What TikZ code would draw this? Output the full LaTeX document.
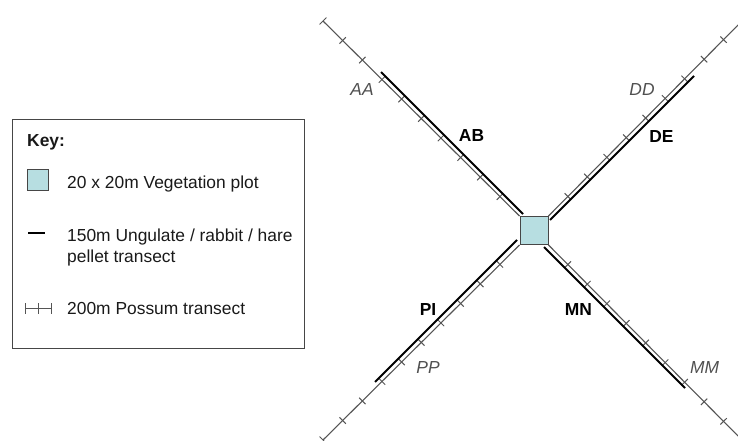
\documentclass[tikz,border=0pt]{standalone}
\usepackage{fontspec}
\setmainfont{Liberation Sans}
\usetikzlibrary{decorations.markings,backgrounds}
\definecolor{plotfill}{RGB}{183,222,225}
\definecolor{linegray}{RGB}{85,85,85}
\definecolor{labgray}{RGB}{80,80,80}
\definecolor{boxgray}{RGB}{70,70,70}
\definecolor{txt}{RGB}{25,25,25}
\begin{document}
\begin{tikzpicture}[x=1pt,y=-1pt,
  font=\fontsize{17.4}{21}\selectfont,
  every node/.style={inner sep=0pt, text=txt},
  possum/.style={draw=linegray, line width=1.1pt, postaction=decorate,
    decoration={markings,
      mark=between positions 0.1 and 0.95 step 0.1 with {\draw[linegray, line width=1pt] (0,-4.5pt) -- (0,4.5pt);},
      mark=at position 1 with {\draw[linegray, line width=1pt] (0,-4.8pt) -- (0,4.8pt);}}},
  pellet/.style={draw=black, line width=2.1pt},
  plotbox/.style={draw=boxgray, fill=plotfill, line width=0.8pt, inner sep=0pt},
  armlab/.style={font=\fontsize{17.4}{21}\selectfont\bfseries, text=black},
  endlab/.style={font=\fontsize{17.4}{21}\selectfont\itshape, text=labgray},
  keytext/.style={anchor=base west, align=left}
]
\useasboundingbox (0,0) rectangle (738,441);

% central vegetation plot
\node[plotbox, minimum size=28pt] (sq) at (534,230.5) {};

% arm ends
\coordinate (endNW) at (323,21);
\coordinate (endNE) at (743,20);
\coordinate (endSW) at (323,440);
\coordinate (endSE) at (743,441);
% pellet transect ends
\coordinate (abIn) at (523,214);  \coordinate (abOut) at (381,72);
\coordinate (deIn) at (550,220);  \coordinate (deOut) at (694,76);
\coordinate (piIn) at (517,240);  \coordinate (piOut) at (375,382);
\coordinate (mnIn) at (544,247);  \coordinate (mnOut) at (685,388);

\begin{scope}[on background layer]
  \draw[possum] (sq.north west) -- (endNW);
  \draw[possum] (sq.north east) -- (endNE);
  \draw[possum] (sq.south west) -- (endSW);
  \draw[possum] (sq.south east) -- (endSE);
  \draw[pellet] (abIn) -- (abOut);
  \draw[pellet] (deIn) -- (deOut);
  \draw[pellet] (piIn) -- (piOut);
  \draw[pellet] (mnIn) -- (mnOut);
\end{scope}

% labels
\node[endlab] (AA) at (362,90) {AA};
\node[armlab] (AB) at (471.5,136) {AB};
\node[endlab] (DD) at (642,90) {DD};
\node[armlab] (DE) at (661.5,136.5) {DE};
\node[armlab] (PI) at (428,309.5) {PI};
\node[endlab] (PP) at (428,368) {PP};
\node[armlab] (MN) at (578.5,310) {MN};
\node[endlab] (MM) at (704.5,368) {MM};

% key
\node[draw=boxgray, line width=1.2pt, minimum width=292pt, minimum height=229pt, anchor=north west] (key) at (12,119) {};
\node[keytext, font=\fontsize{17.4}{21}\selectfont\bfseries] (keytitle) at (27,146) {Key:};
\node[plotbox, minimum size=21pt, anchor=north west] (keysq) at (27,169) {};
\node[keytext] (t1) at (67,188) {20 x 20m Vegetation plot};
\coordinate (k1a) at (28,233); \coordinate (k1b) at (45,233);
\draw[pellet, line width=1.8pt] (k1a) -- (k1b);
\node[keytext] (t2) at (67,262) {150m Ungulate / rabbit / hare\\pellet transect};
\coordinate (k2a) at (25,308); \coordinate (k2m) at (38,308); \coordinate (k2b) at (51,308);
\draw[linegray, line width=1pt] (k2a) -- (k2b);
\draw[linegray, line width=1pt] ([yshift=-5.5pt]k2a) -- ([yshift=5.5pt]k2a)
  ([yshift=-5.5pt]k2m) -- ([yshift=5.5pt]k2m)
  ([yshift=-5.5pt]k2b) -- ([yshift=5.5pt]k2b);
\node[keytext] (t3) at (67,314) {200m Possum transect};
\end{tikzpicture}
\end{document}
